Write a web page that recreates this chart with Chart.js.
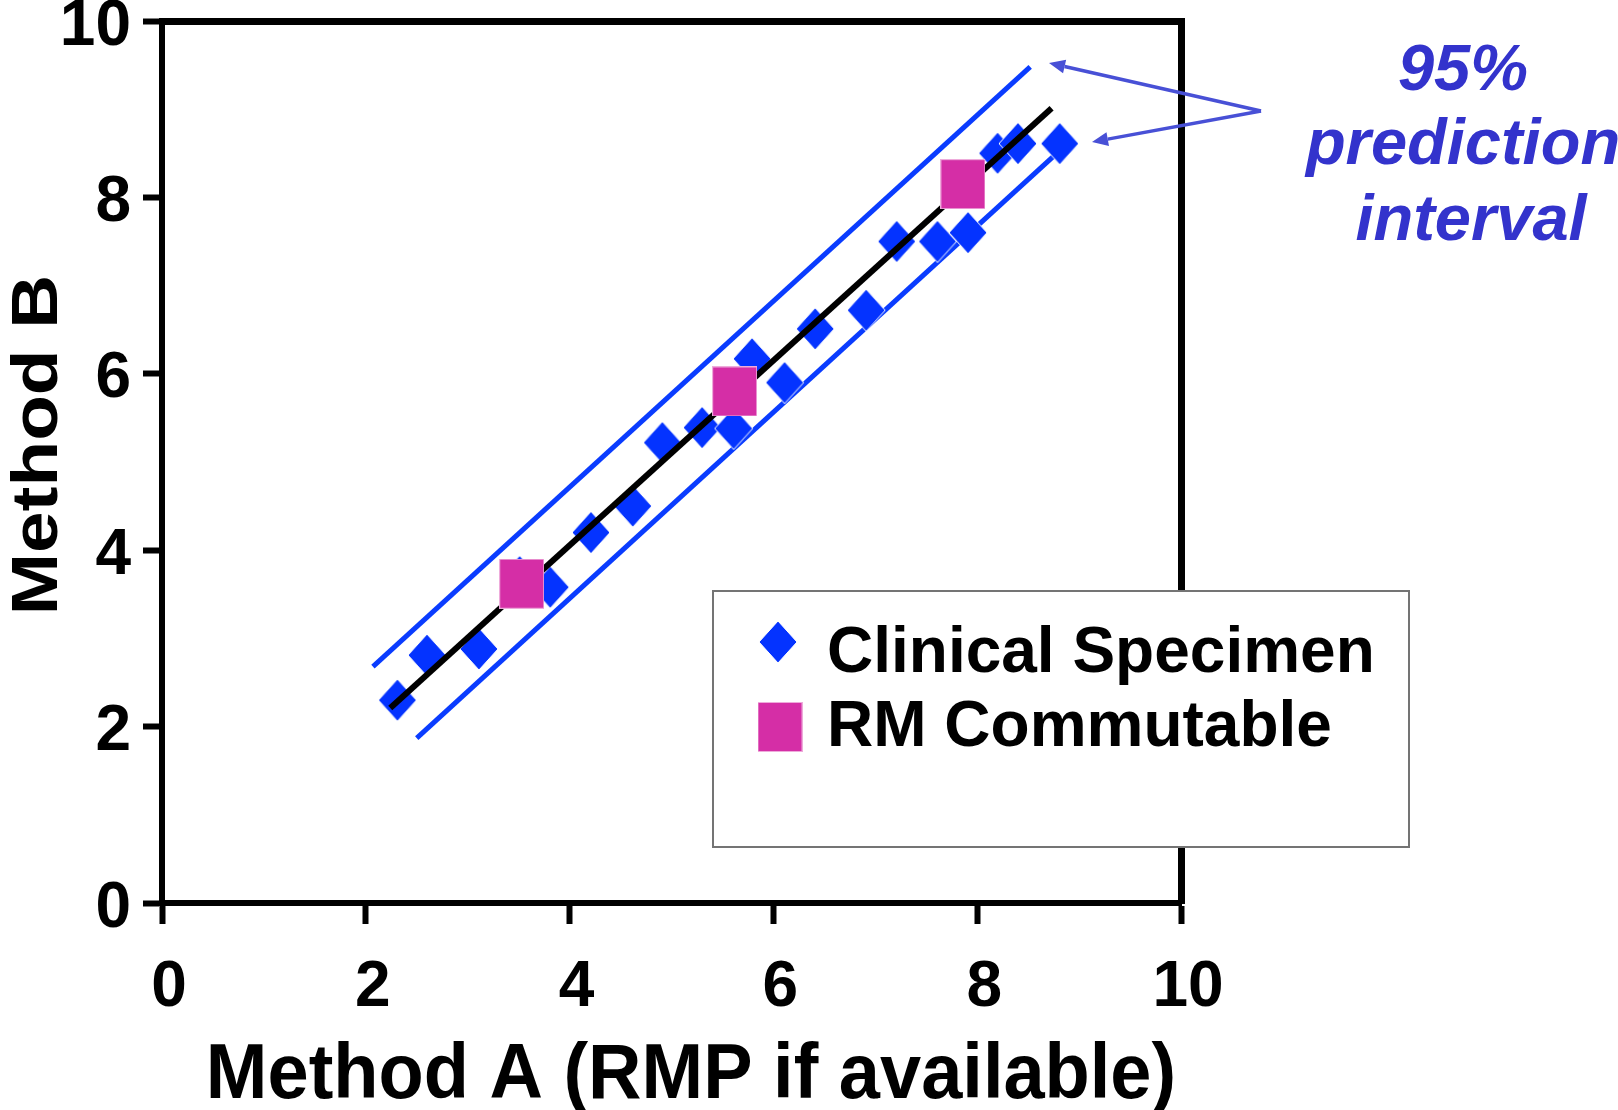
<!DOCTYPE html>
<html>
<head>
<meta charset="utf-8">
<title>Method A vs Method B</title>
<script src="https://cdn.jsdelivr.net/npm/chart.js@4.4.1/dist/chart.umd.min.js"></script>
<style>
  html, body { margin: 0; padding: 0; background: #fff; }
  canvas { display: block; }
</style>
</head>
<body>
<canvas id="chart" width="1618" height="1110"></canvas>
<script>
// values
const specimenX = [2.31, 2.60, 3.11, 3.51, 3.81, 4.21, 4.62, 4.91, 5.30, 5.61, 5.79, 6.11, 6.41, 6.91, 7.21, 7.61, 7.91, 8.20, 8.40, 8.81];
const specimenY = [2.30, 2.81, 2.88, 3.70, 3.58, 4.20, 4.50, 5.22, 5.39, 5.38, 6.17, 5.90, 6.51, 6.72, 7.50, 7.50, 7.60, 8.50, 8.61, 8.61];
const rmX = [3.53, 5.62, 7.86];
const rmY = [3.62, 5.80, 8.15];
const fitX = [2.24, 8.73];
const fitY = [2.21, 9.01];
const upperX = [2.07, 8.52];
const upperY = [2.68, 9.48];
const lowerX = [2.50, 8.78];
const lowerY = [1.87, 8.50];
const axisMin = 0;
const axisMax = 10;
const tickStep = 2;

const FONT = '"Liberation Sans", Arial, Helvetica, sans-serif';
const BLUE = '#0433ff';
const LINE_BLUE = '#0a3cff';
const PINK = '#d52ea6';
const NOTE = '#3333cc';
const ARROW = '#4850d6';

function toPoints(xs, ys) {
  return xs.map((x, i) => ({ x: x, y: ys[i] }));
}

// marker images (the original markers are a little taller than wide)
function makeDiamond(w, h, color) {
  const c = document.createElement('canvas');
  c.width = w + 2;
  c.height = h + 2;
  const g = c.getContext('2d');
  g.beginPath();
  g.moveTo(c.width / 2, 1);
  g.lineTo(c.width - 1, c.height / 2);
  g.lineTo(c.width / 2, c.height - 1);
  g.lineTo(1, c.height / 2);
  g.closePath();
  g.fillStyle = color;
  g.fill();
  g.strokeStyle = '#fff';
  g.lineWidth = 1;
  g.stroke();
  return c;
}

function makeSquare(w, h, color) {
  const c = document.createElement('canvas');
  c.width = w;
  c.height = h;
  const g = c.getContext('2d');
  g.fillStyle = color;
  g.fillRect(0, 0, w, h);
  g.strokeStyle = 'rgba(255,255,255,0.6)';
  g.lineWidth = 1;
  g.strokeRect(0.5, 0.5, w - 1, h - 1);
  return c;
}

const diamondImg = makeDiamond(38, 42, BLUE);
const squareImg = makeSquare(45, 50, PINK);

function drawArrow(ctx, x1, y1, x2, y2) {
  const ang = Math.atan2(y2 - y1, x2 - x1);
  const len = 16, half = 7;
  const bx = x2 - Math.cos(ang) * len, by = y2 - Math.sin(ang) * len;
  ctx.beginPath();
  ctx.moveTo(x1, y1);
  ctx.lineTo(bx, by);
  ctx.stroke();
  ctx.beginPath();
  ctx.moveTo(x2, y2);
  ctx.lineTo(bx + Math.sin(ang) * half, by - Math.cos(ang) * half);
  ctx.lineTo(bx - Math.sin(ang) * half, by + Math.cos(ang) * half);
  ctx.closePath();
  ctx.fill();
}

// legend box, axis titles and the "95% prediction interval" note
const overlayPlugin = {
  id: 'overlay',
  afterDraw(chart) {
    const ctx = chart.ctx;
    const sets = chart.data.datasets;
    ctx.save();

    // legend
    ctx.fillStyle = '#fff';
    ctx.fillRect(713, 591, 696, 256);
    ctx.strokeStyle = '#747474';
    ctx.lineWidth = 2;
    ctx.strokeRect(713, 591, 696, 256);
    ctx.drawImage(diamondImg, 778 - diamondImg.width / 2, 642 - diamondImg.height / 2);
    ctx.drawImage(squareImg, 780 - squareImg.width / 2, 727 - squareImg.height / 2);
    ctx.fillStyle = '#000';
    ctx.font = 'bold 64px ' + FONT;
    ctx.textAlign = 'left';
    ctx.textBaseline = 'alphabetic';
    ctx.fillText(sets[2].label, 827, 672);
    ctx.fillText(sets[0].label, 827, 746);

    // axis titles
    ctx.textAlign = 'center';
    ctx.save();
    ctx.translate(691, 1098);
    ctx.scale(1, 1.05);
    ctx.font = 'bold 74px ' + FONT;
    ctx.fillText('Method A (RMP if available)', 0, 0);
    ctx.restore();
    ctx.save();
    ctx.translate(57, 445);
    ctx.scale(1, 1.15);
    ctx.rotate(-Math.PI / 2);
    ctx.font = 'bold 65px ' + FONT;
    ctx.fillText('Method B', 0, 0);
    ctx.restore();

    // note
    ctx.fillStyle = NOTE;
    ctx.font = 'italic bold 65px ' + FONT;
    ctx.fillText('95%', 1463, 90);
    ctx.fillText('prediction', 1463, 164);
    ctx.fillText('interval', 1471, 240);

    ctx.strokeStyle = ARROW;
    ctx.fillStyle = ARROW;
    ctx.lineWidth = 3.5;
    drawArrow(ctx, 1261, 111, 1049, 63);
    drawArrow(ctx, 1261, 111, 1092, 142);

    ctx.restore();
  }
};

const tickFont = { family: FONT, weight: 'bold', size: 64, lineHeight: 0.6 };

new Chart(document.getElementById('chart'), {
  type: 'scatter',
  data: {
    datasets: [
      {
        label: 'RM Commutable',
        data: toPoints(rmX, rmY),
        pointStyle: squareImg,
        pointRadius: 20,
        pointHoverRadius: 20
      },
      {
        label: 'Regression',
        data: toPoints(fitX, fitY),
        showLine: true,
        borderColor: '#000',
        borderWidth: 6,
        pointRadius: 0,
        fill: false
      },
      {
        label: 'Clinical Specimen',
        data: toPoints(specimenX, specimenY),
        pointStyle: diamondImg,
        pointRadius: 18,
        pointHoverRadius: 18
      },
      {
        label: 'Upper 95% prediction limit',
        data: toPoints(upperX, upperY),
        showLine: true,
        borderColor: LINE_BLUE,
        borderWidth: 5,
        pointRadius: 0,
        fill: false
      },
      {
        label: 'Lower 95% prediction limit',
        data: toPoints(lowerX, lowerY),
        showLine: true,
        borderColor: LINE_BLUE,
        borderWidth: 5,
        pointRadius: 0,
        fill: false
      }
    ]
  },
  options: {
    responsive: false,
    animation: false,
    devicePixelRatio: 1,
    layout: { padding: { top: 20, right: 437, bottom: 0, left: 0 } },
    plugins: {
      legend: { display: false },
      tooltip: { enabled: false }
    },
    scales: {
      x: {
        type: 'linear',
        position: 'bottom',
        min: axisMin,
        max: axisMax,
        ticks: { stepSize: tickStep, color: '#000', font: tickFont, padding: 45, labelOffset: 7, maxRotation: 0 },
        grid: { display: true, drawOnChartArea: false, drawTicks: true, tickLength: 21, tickWidth: 6, tickColor: '#000' },
        border: { display: true, color: '#000', width: 6 },
        afterFit(s) { s.height = 207; s.paddingLeft = 0; s.paddingRight = 0; }
      },
      y: {
        type: 'linear',
        position: 'left',
        min: axisMin,
        max: axisMax,
        ticks: { stepSize: tickStep, color: '#000', font: tickFont, padding: 12, labelOffset: 6 },
        grid: { display: true, drawOnChartArea: false, drawTicks: true, tickLength: 19, tickWidth: 6, tickColor: '#000' },
        border: { display: true, color: '#000', width: 6 },
        afterFit(s) { s.width = 162; s.paddingTop = 0; s.paddingBottom = 0; }
      },
      xTop: {
        type: 'linear',
        position: 'top',
        display: true,
        min: axisMin,
        max: axisMax,
        ticks: { display: false },
        grid: { display: false, drawTicks: false },
        border: { display: true, color: '#000', width: 7 },
        afterFit(s) { s.height = 0; }
      },
      yRight: {
        type: 'linear',
        position: 'right',
        display: true,
        min: axisMin,
        max: axisMax,
        ticks: { display: false },
        grid: { display: false, drawTicks: false },
        border: { display: true, color: '#000', width: 7 },
        afterFit(s) { s.width = 0; }
      }
    }
  },
  plugins: [overlayPlugin]
});
</script>
</body>
</html>
